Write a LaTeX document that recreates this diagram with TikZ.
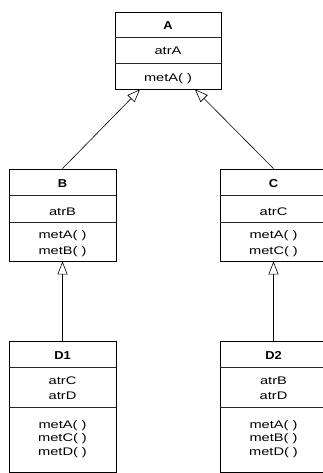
\documentclass[tikz,border=0pt]{standalone}
\usepackage{fontspec}
\setmainfont{Liberation Sans}[FakeStretch=1.33]
\newfontfamily\clsfont{Liberation Sans}[FakeStretch=1.12]
\usetikzlibrary{arrows.meta}

\tikzset{
  classbox/.style={draw=black, line width=0.8pt, rectangle, inner sep=0pt},
  divider/.style={draw=black!85, line width=1pt},
  clsname/.style={anchor=base, inner sep=0pt, font=\clsfont\bfseries\fontsize{11.5}{13}\selectfont},
  member/.style={anchor=base, inner sep=0pt, font=\fontsize{11}{13}\selectfont},
  inherit/.style={draw=black, line width=0.6pt, -{Triangle[open, length=13pt, width=10pt]}}
}

\begin{document}
\begin{tikzpicture}[x=1pt, y=-1pt]
  \useasboundingbox (0,0) rectangle (323,473);
  \clip (0,0) rectangle (323,473);

  % class boxes
  \node[classbox, minimum width=106pt, minimum height=77pt]  (A)  at (168,50.5) {};
  \node[classbox, minimum width=107pt, minimum height=92pt]  (B)  at (62.5,215) {};
  \node[classbox, minimum width=107pt, minimum height=92pt]  (C)  at (273.5,215) {};
  \node[classbox, minimum width=107pt, minimum height=131pt] (D1) at (62.5,407) {};
  \node[classbox, minimum width=107pt, minimum height=131pt] (D2) at (273.5,407) {};

  % compartment dividers
  \draw[divider] (A.west |- 0,38) -- (A.east |- 0,38);
  \draw[divider] (A.west |- 0,63.5) -- (A.east |- 0,63.5);
  \draw[divider] (B.west |- 0,195) -- (B.east |- 0,195);
  \draw[divider] (B.west |- 0,222) -- (B.east |- 0,222);
  \draw[divider] (C.west |- 0,195) -- (C.east |- 0,195);
  \draw[divider] (C.west |- 0,222) -- (C.east |- 0,222);
  \draw[divider] (D1.west |- 0,367.7) -- (D1.east |- 0,367.7);
  \draw[divider] (D1.west |- 0,407) -- (D1.east |- 0,407);
  \draw[divider] (D2.west |- 0,367.7) -- (D2.east |- 0,367.7);
  \draw[divider] (D2.west |- 0,407) -- (D2.east |- 0,407);

  % class A
  \node[clsname] (An) at (168,29.5) {A};
  \node[member]  (Aa) at (168,55) {atrA};
  \node[member]  (Am) at (168,82) {metA( )};

  % class B
  \node[clsname] (Bn)  at (62.5,187) {B};
  \node[member]  (Ba)  at (62.5,215.3) {atrB};
  \node[member]  (Bm1) at (62.5,238.5) {metA( )};
  \node[member]  (Bm2) at (62.5,254.2) {metB( )};

  % class C
  \node[clsname] (Cn)  at (273.5,187) {C};
  \node[member]  (Ca)  at (273.5,215.3) {atrC};
  \node[member]  (Cm1) at (273.5,238.5) {metA( )};
  \node[member]  (Cm2) at (273.5,254.2) {metC( )};

  % class D1
  \node[clsname] (D1n)  at (62.5,359.4) {D1};
  \node[member]  (D1a1) at (62.5,384.4) {atrC};
  \node[member]  (D1a2) at (62.5,399.4) {atrD};
  \node[member]  (D1m1) at (62.5,428.4) {metA( )};
  \node[member]  (D1m2) at (62.5,441.9) {metC( )};
  \node[member]  (D1m3) at (62.5,455.2) {metD( )};

  % class D2
  \node[clsname] (D2n)  at (273.5,359.4) {D2};
  \node[member]  (D2a1) at (273.5,384.4) {atrB};
  \node[member]  (D2a2) at (273.5,399.4) {atrD};
  \node[member]  (D2m1) at (273.5,428.4) {metA( )};
  \node[member]  (D2m2) at (273.5,441.9) {metB( )};
  \node[member]  (D2m3) at (273.5,455.2) {metD( )};

  % generalisation arrows
  \draw[inherit] (B.north) -- ([xshift=-28pt]A.south);
  \draw[inherit] (C.north) -- ([xshift=27pt]A.south);
  \draw[inherit] (D1.north) -- (B.south);
  \draw[inherit] (D2.north) -- (C.south);
\end{tikzpicture}
\end{document}
